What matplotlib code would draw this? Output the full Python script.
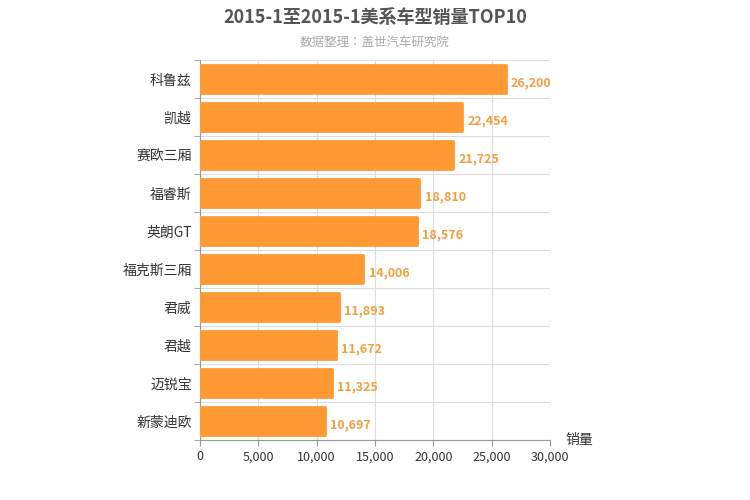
import matplotlib
matplotlib.use("Agg")
import matplotlib.pyplot as plt
import numpy as np

plt.rcParams["font.family"] = ["Noto Sans CJK JP", "Noto Sans CJK SC", "DejaVu Sans"]

# data
models = ['科鲁兹', '凯越', '赛欧三厢', '福睿斯', '英朗GT', '福克斯三厢', '君威', '君越', '迈锐宝', '新蒙迪欧']
sales = [26200, 22454, 21725, 18810, 18576, 14006, 11893, 11672, 11325, 10697]
xticks = [0, 5000, 10000, 15000, 20000, 25000, 30000]

fig = plt.figure(figsize=(7.5, 5), dpi=100)
ax = fig.add_axes([200/750, 60/500, 350/750, 380/500])

y = np.arange(len(models))
ax.barh(y, sales, height=0.72, color="#ff9933", edgecolor="#ff9933",
        linewidth=2, joinstyle="round", zorder=3)
for yi, v in zip(y, sales):
    ax.text(v + 450, yi + 0.1, f"{v:,}", va="center", ha="left",
            fontsize=9, color="#f0a040", fontweight="bold")

ax.set_ylim(len(models) - 0.5, -0.5)
ax.set_xlim(0, 30000)
ax.set_yticks(y)
ax.set_yticklabels(models, fontsize=10, color="#333333")
ax.set_xticks(xticks)
ax.set_xticklabels([f"{t:,}" for t in xticks], fontsize=9, color="#333333")
ax.set_yticks(np.arange(len(models) + 1) - 0.5, minor=True)
ax.tick_params(axis="y", which="major", length=0, pad=6)
ax.tick_params(axis="y", which="minor", length=4, color="#999999")
ax.tick_params(axis="x", length=4, color="#999999")
ax.grid(axis="x", color="#dddddd", linewidth=0.8, zorder=0)
ax.grid(axis="y", which="minor", color="#dddddd", linewidth=0.8, zorder=0)
for s in ["top", "right"]:
    ax.spines[s].set_visible(False)
ax.spines["left"].set_color("#999999")
ax.spines["bottom"].set_color("#999999")

fig.text(0.5, 0.965, "2015-1至2015-1美系车型销量TOP10", ha="center", va="center",
         fontsize=13, fontweight="bold", color="#555555")
fig.text(0.5, 0.915, "数据整理：盖世汽车研究院", ha="center", va="center",
         fontsize=9, color="#aaaaaa")
fig.text(565/750, 1 - 440/500, "销量", ha="left", va="center", fontsize=10, color="#333333")

fig.savefig("out.png", dpi=100)
